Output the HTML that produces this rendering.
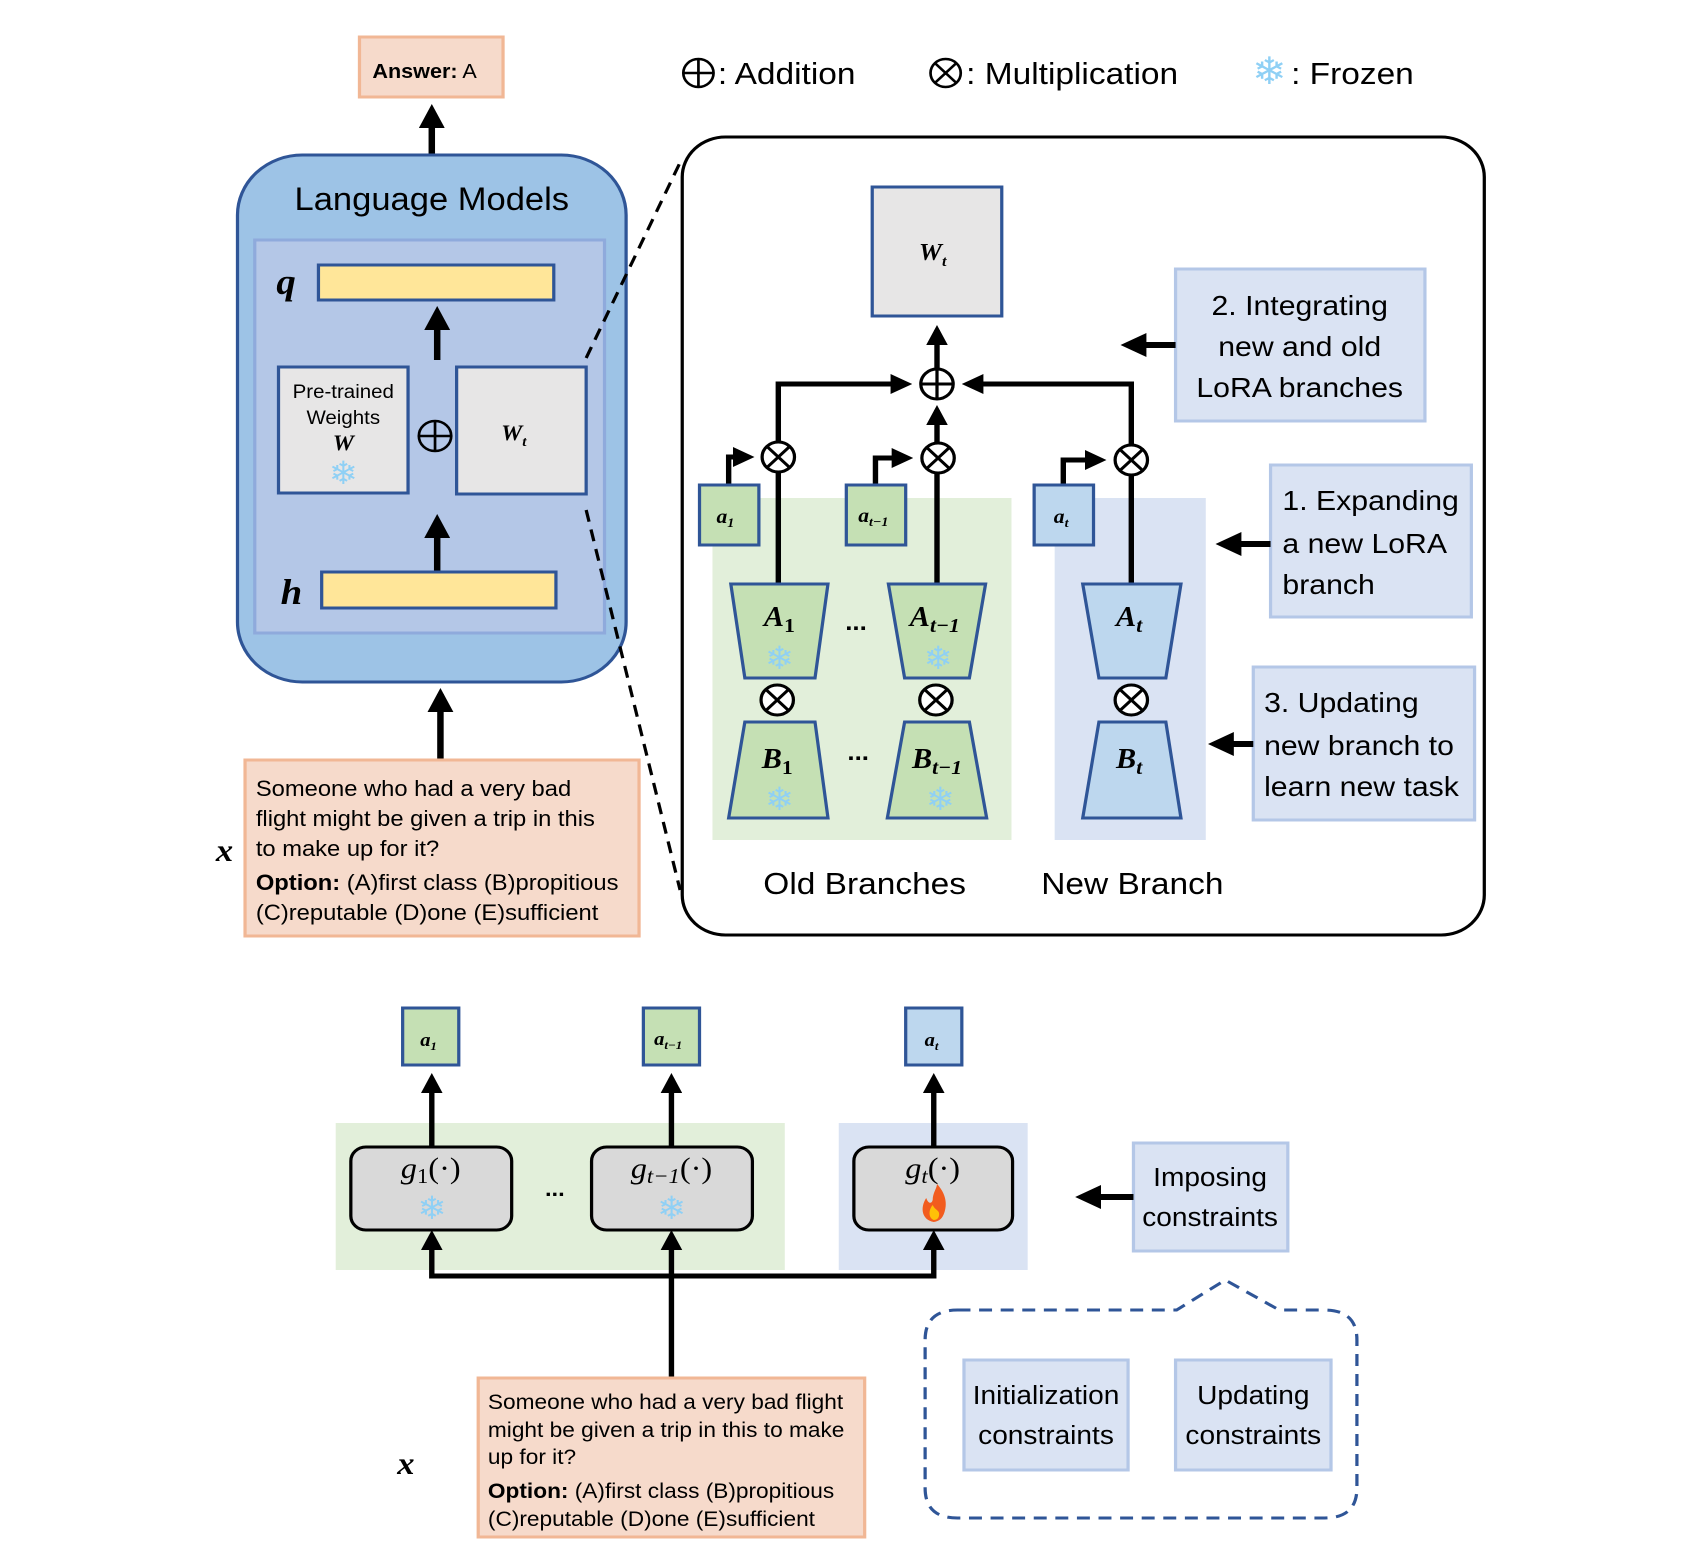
<!DOCTYPE html>
<html><head><meta charset="utf-8"><style>
html,body{margin:0;padding:0;background:#fff;}
svg{display:block;}
text{font-family:"Liberation Sans","DejaVu Sans",sans-serif;fill:#000;}
.m{font-family:"Liberation Serif",serif;font-weight:bold;font-style:italic;}
.sf{fill:#8fd0f5;font-family:"DejaVu Sans",sans-serif;}
</style></head><body>
<svg width="1684" height="1545" viewBox="0 0 1560 1545" preserveAspectRatio="none" xmlns="http://www.w3.org/2000/svg">
<defs>
<marker id="ah" markerWidth="4" markerHeight="4" refX="3" refY="2" orient="auto" markerUnits="strokeWidth"><path d="M0,0 L4,2 L0,4 z" fill="#000"/></marker>
</defs>

<circle cx="647" cy="73" r="14" fill="none" stroke="#000" stroke-width="2.5"/><path d="M633,73h28M647,59v28" stroke="#000" stroke-width="2.5"/>
<text x="665" y="84" font-size="31">: Addition</text>
<circle cx="876" cy="73" r="14" fill="none" stroke="#000" stroke-width="2.5"/><path d="M866,63l20,20M886,63l-20,20" stroke="#000" stroke-width="2.5"/>
<text x="895" y="84" font-size="31">: Multiplication</text>
<text x="1160" y="84" font-size="38" class="sf">❄</text>
<text x="1196" y="84" font-size="31">: Frozen</text>

<rect x="333" y="37" width="133" height="60" fill="#f6dacb" stroke="#f1b795" stroke-width="3"/>
<text x="345" y="78" font-size="20"><tspan font-weight="bold">Answer:</tspan> A</text>
<line x1="400" y1="155" x2="400" y2="110" stroke="#000" stroke-width="6" marker-end="url(#ah)"/>

<rect x="220" y="155" width="360" height="527" rx="60" fill="#9dc3e6" stroke="#2f5597" stroke-width="3"/>
<text x="400" y="210" font-size="32" text-anchor="middle">Language Models</text>
<rect x="236" y="240" width="324" height="393" fill="#b4c7e7" stroke="#8faadc" stroke-width="3"/>
<rect x="295" y="265" width="218" height="35" fill="#ffe699" stroke="#2f5597" stroke-width="3"/>
<text x="265" y="294" font-size="36" class="m" text-anchor="middle">q</text>
<line x1="405" y1="360" x2="405" y2="312" stroke="#000" stroke-width="6" marker-end="url(#ah)"/>
<rect x="258" y="367" width="120" height="126" fill="#e7e6e6" stroke="#2f5597" stroke-width="3"/>
<text x="318" y="398" font-size="19" text-anchor="middle">Pre-trained</text>
<text x="318" y="424" font-size="19" text-anchor="middle">Weights</text>
<text x="318" y="450" font-size="22" class="m" text-anchor="middle">W</text>
<text x="318" y="484" font-size="32" class="sf" text-anchor="middle">❄</text>
<circle cx="403" cy="436" r="15" fill="none" stroke="#000" stroke-width="2.5"/><path d="M388,436h30M403,421v30" stroke="#000" stroke-width="2.5"/>
<rect x="423" y="367" width="120" height="127" fill="#e7e6e6" stroke="#2f5597" stroke-width="3"/>
<text x="476" y="440" font-size="22" class="m" text-anchor="middle">W<tspan font-size="14" dy="6">t</tspan></text>
<line x1="405" y1="572" x2="405" y2="520" stroke="#000" stroke-width="6" marker-end="url(#ah)"/>
<rect x="298" y="572" width="217" height="36" fill="#ffe699" stroke="#2f5597" stroke-width="3"/>
<text x="270" y="604" font-size="36" class="m" text-anchor="middle">h</text>
<line x1="408" y1="760" x2="408" y2="694" stroke="#000" stroke-width="6" marker-end="url(#ah)"/>

<rect x="227" y="760" width="365" height="176" fill="#f6dacb" stroke="#f1b795" stroke-width="3"/>
<text x="237" y="796" font-size="22">Someone who had a very bad</text>
<text x="237" y="826" font-size="22">flight might be given a trip in this</text>
<text x="237" y="856" font-size="22">to make up for it?</text>
<text x="237" y="890" font-size="22"><tspan font-weight="bold">Option:</tspan> (A)first class (B)propitious</text>
<text x="237" y="920" font-size="22">(C)reputable (D)one (E)sufficient</text>
<text x="208" y="861" font-size="32" class="m" text-anchor="middle">x</text>

<line x1="543" y1="358" x2="632" y2="158" stroke="#000" stroke-width="3" stroke-dasharray="12,8"/>
<line x1="543" y1="510" x2="630" y2="890" stroke="#000" stroke-width="3" stroke-dasharray="12,8"/>

<rect x="632" y="137" width="743" height="798" rx="40" fill="#fff" stroke="#000" stroke-width="3"/>
<rect x="660" y="498" width="277" height="342" fill="#e2efda"/>
<rect x="977" y="498" width="140" height="342" fill="#dae3f3"/>
<rect x="808" y="187" width="120" height="129" fill="#e7e6e6" stroke="#2f5597" stroke-width="3"/>
<text x="864" y="260" font-size="24" class="m" text-anchor="middle">W<tspan font-size="15" dy="6">t</tspan></text>

<g stroke="#000" stroke-width="5" fill="none">
<line x1="868" y1="369" x2="868" y2="330" marker-end="url(#ah)"/>
<polyline points="721,442 721,384 840,384" marker-end="url(#ah)"/>
<polyline points="1048,445 1048,384 896,384" marker-end="url(#ah)"/>
<line x1="868" y1="443" x2="868" y2="410" marker-end="url(#ah)"/>
<line x1="721" y1="584" x2="721" y2="472"/>
<line x1="868" y1="584" x2="868" y2="473"/>
<line x1="1048" y1="584" x2="1048" y2="475"/>
<polyline points="675,485 675,457 694,457" marker-end="url(#ah)"/>
<polyline points="811,485 811,458 841,458" marker-end="url(#ah)"/>
<polyline points="985,485 985,460 1020,460" marker-end="url(#ah)"/>
</g>
<g fill="#fff" stroke="#000" stroke-width="3">
<circle cx="868" cy="384" r="15"/><path d="M853,384h30M868,369v30"/>
<circle cx="721" cy="457" r="15"/><path d="M710,446l22,22M732,446l-22,22"/>
<circle cx="869" cy="458" r="15"/><path d="M858,447l22,22M880,447l-22,22"/>
<circle cx="1048" cy="460" r="15"/><path d="M1037,449l22,22M1059,449l-22,22"/>
<circle cx="720" cy="700" r="15"/><path d="M709,689l22,22M731,689l-22,22"/>
<circle cx="867" cy="700" r="15"/><path d="M856,689l22,22M878,689l-22,22"/>
<circle cx="1048" cy="700" r="15"/><path d="M1037,689l22,22M1059,689l-22,22"/>
</g>
<rect x="648" y="485" width="55" height="60" fill="#c5e0b4" stroke="#2f5597" stroke-width="3"/>
<text x="672" y="523" font-size="20" class="m" font-weight="normal" text-anchor="middle">a<tspan font-size="13" dy="4">1</tspan></text>
<rect x="784" y="485" width="55" height="60" fill="#c5e0b4" stroke="#2f5597" stroke-width="3"/>
<text x="809" y="522" font-size="20" class="m" font-weight="normal" text-anchor="middle">a<tspan font-size="13" dy="4">t−1</tspan></text>
<rect x="958" y="485" width="55" height="60" fill="#bdd7ee" stroke="#2f5597" stroke-width="3"/>
<text x="983" y="523" font-size="20" class="m" font-weight="normal" text-anchor="middle">a<tspan font-size="13" dy="4">t</tspan></text>

<g stroke="#2f5597" stroke-width="3">
<polygon points="677,584 767,584 755,678 690,678" fill="#c5e0b4"/>
<polygon points="690,722 755,722 767,818 675,818" fill="#c5e0b4"/>
<polygon points="823,584 913,584 898,678 838,678" fill="#c5e0b4"/>
<polygon points="838,722 898,722 914,818 822,818" fill="#c5e0b4"/>
<polygon points="1003,584 1094,584 1080,678 1018,678" fill="#bdd7ee"/>
<polygon points="1018,722 1080,722 1094,818 1003,818" fill="#bdd7ee"/>
</g>
<text x="722" y="626" font-size="28" class="m" text-anchor="middle">A<tspan font-size="20" dy="6" font-style="normal">1</tspan></text>
<text x="866" y="626" font-size="28" class="m" text-anchor="middle">A<tspan font-size="20" dy="6">t−1</tspan></text>
<text x="1046" y="626" font-size="28" class="m" text-anchor="middle">A<tspan font-size="20" dy="6">t</tspan></text>
<text x="720" y="768" font-size="28" class="m" text-anchor="middle">B<tspan font-size="20" dy="6" font-style="normal">1</tspan></text>
<text x="868" y="768" font-size="28" class="m" text-anchor="middle">B<tspan font-size="20" dy="6">t−1</tspan></text>
<text x="1046" y="768" font-size="28" class="m" text-anchor="middle">B<tspan font-size="20" dy="6">t</tspan></text>
<text x="722" y="669" font-size="32" class="sf" text-anchor="middle">❄</text>
<text x="869" y="669" font-size="32" class="sf" text-anchor="middle">❄</text>
<text x="722" y="810" font-size="32" class="sf" text-anchor="middle">❄</text>
<text x="871" y="810" font-size="32" class="sf" text-anchor="middle">❄</text>
<text x="793" y="630" font-size="24" font-weight="bold" text-anchor="middle">...</text>
<text x="795" y="760" font-size="24" font-weight="bold" text-anchor="middle">...</text>
<text x="801" y="894" font-size="31" text-anchor="middle">Old Branches</text>
<text x="1049" y="894" font-size="31" text-anchor="middle">New Branch</text>

<rect x="1089" y="269" width="231" height="152" fill="#dae3f3" stroke="#b4c7e7" stroke-width="3"/>
<text x="1204" y="315" font-size="28" text-anchor="middle">2. Integrating</text>
<text x="1204" y="356" font-size="28" text-anchor="middle">new and old</text>
<text x="1204" y="397" font-size="28" text-anchor="middle">LoRA branches</text>
<rect x="1177" y="465" width="186" height="152" fill="#dae3f3" stroke="#b4c7e7" stroke-width="3"/>
<text x="1188" y="510" font-size="28">1. Expanding</text>
<text x="1188" y="553" font-size="28">a new LoRA</text>
<text x="1188" y="594" font-size="28">branch</text>
<rect x="1161" y="667" width="205" height="153" fill="#dae3f3" stroke="#b4c7e7" stroke-width="3"/>
<text x="1171" y="712" font-size="28">3. Updating</text>
<text x="1171" y="755" font-size="28">new branch to</text>
<text x="1171" y="796" font-size="28">learn new task</text>
<g stroke="#000" stroke-width="6">
<line x1="1089" y1="345" x2="1044" y2="345" marker-end="url(#ah)"/>
<line x1="1177" y1="544" x2="1132" y2="544" marker-end="url(#ah)"/>
<line x1="1161" y1="744" x2="1125" y2="744" marker-end="url(#ah)"/>
</g>

<rect x="311" y="1123" width="416" height="147" fill="#e2efda"/>
<rect x="777" y="1123" width="175" height="147" fill="#dae3f3"/>
<rect x="373" y="1008" width="52" height="57" fill="#c5e0b4" stroke="#2f5597" stroke-width="3"/>
<text x="397" y="1046" font-size="19" class="m" font-weight="normal" text-anchor="middle">a<tspan font-size="12" dy="4">1</tspan></text>
<rect x="596" y="1008" width="52" height="57" fill="#c5e0b4" stroke="#2f5597" stroke-width="3"/>
<text x="619" y="1045" font-size="19" class="m" font-weight="normal" text-anchor="middle">a<tspan font-size="12" dy="4">t−1</tspan></text>
<rect x="839" y="1008" width="52" height="57" fill="#bdd7ee" stroke="#2f5597" stroke-width="3"/>
<text x="863" y="1046" font-size="19" class="m" font-weight="normal" text-anchor="middle">a<tspan font-size="12" dy="4">t</tspan></text>
<g stroke="#000" stroke-width="5" fill="none">
<line x1="400" y1="1147" x2="400" y2="1078" marker-end="url(#ah)"/>
<line x1="622" y1="1147" x2="622" y2="1078" marker-end="url(#ah)"/>
<line x1="865" y1="1147" x2="865" y2="1078" marker-end="url(#ah)"/>
<polyline points="400,1244 400,1276 865,1276 865,1244" />
<line x1="622" y1="1378" x2="622" y2="1244"/>
</g>
<g fill="#000">
<path d="M390,1250 L400,1230 L410,1250z"/><path d="M612,1250 L622,1230 L632,1250z"/><path d="M855,1250 L865,1230 L875,1250z"/>
</g>
<rect x="325" y="1147" width="149" height="83" rx="14" fill="#d9d9d9" stroke="#000" stroke-width="3"/>
<rect x="548" y="1147" width="149" height="83" rx="14" fill="#d9d9d9" stroke="#000" stroke-width="3"/>
<rect x="791" y="1147" width="147" height="83" rx="14" fill="#d9d9d9" stroke="#000" stroke-width="3"/>
<text x="399" y="1178" font-size="30" text-anchor="middle" style="font-family:'Liberation Serif',serif;font-style:italic">g<tspan font-size="21" dy="5" style="font-style:normal">1</tspan><tspan dy="-5" style="font-style:normal">(·)</tspan></text>
<text x="622" y="1178" font-size="30" text-anchor="middle" style="font-family:'Liberation Serif',serif;font-style:italic">g<tspan font-size="21" dy="5">t−1</tspan><tspan dy="-5" style="font-style:normal">(·)</tspan></text>
<text x="864" y="1178" font-size="30" text-anchor="middle" style="font-family:'Liberation Serif',serif;font-style:italic">g<tspan font-size="21" dy="5">t</tspan><tspan dy="-5" style="font-style:normal">(·)</tspan></text>
<text x="400" y="1219" font-size="32" class="sf" text-anchor="middle">❄</text>
<text x="622" y="1219" font-size="32" class="sf" text-anchor="middle">❄</text>
<path d="M865,1222 C854,1220 852,1208 858,1198 C860,1204 863,1204 864,1200 C864,1193 868,1188 868,1184 C875,1192 878,1202 875,1212 C873,1219 870,1221 865,1222z" fill="#f25c1e"/>
<path d="M865,1220 C860,1218 860,1210 864,1205 C866,1210 870,1210 870,1214 C870,1218 868,1220 865,1220z" fill="#ffc107"/>
<text x="514" y="1196" font-size="22" font-weight="bold" text-anchor="middle">...</text>

<rect x="1050" y="1143" width="143" height="108" fill="#dae3f3" stroke="#b4c7e7" stroke-width="3"/>
<text x="1121" y="1186" font-size="26" text-anchor="middle">Imposing</text>
<text x="1121" y="1226" font-size="26" text-anchor="middle">constraints</text>
<line x1="1050" y1="1197" x2="1002" y2="1197" stroke="#000" stroke-width="6" marker-end="url(#ah)"/>

<path d="M887,1310 L1090,1310 L1135,1280 L1185,1310 L1227,1310 Q1257,1310 1257,1340 L1257,1488 Q1257,1518 1227,1518 L887,1518 Q857,1518 857,1488 L857,1340 Q857,1310 887,1310z" fill="none" stroke="#2f5597" stroke-width="3" stroke-dasharray="12,8"/>
<rect x="893" y="1360" width="152" height="110" fill="#dae3f3" stroke="#b4c7e7" stroke-width="3"/>
<text x="969" y="1404" font-size="26" text-anchor="middle">Initialization</text>
<text x="969" y="1444" font-size="26" text-anchor="middle">constraints</text>
<rect x="1089" y="1360" width="144" height="110" fill="#dae3f3" stroke="#b4c7e7" stroke-width="3"/>
<text x="1161" y="1404" font-size="26" text-anchor="middle">Updating</text>
<text x="1161" y="1444" font-size="26" text-anchor="middle">constraints</text>

<rect x="443" y="1378" width="358" height="159" fill="#f6dacb" stroke="#f1b795" stroke-width="3"/>
<text x="452" y="1409" font-size="21">Someone who had a very bad flight</text>
<text x="452" y="1437" font-size="21">might be given a trip in this to make</text>
<text x="452" y="1464" font-size="21">up for it?</text>
<text x="452" y="1498" font-size="21"><tspan font-weight="bold">Option:</tspan> (A)first class (B)propitious</text>
<text x="452" y="1526" font-size="21">(C)reputable (D)one (E)sufficient</text>
<text x="376" y="1474" font-size="32" class="m" text-anchor="middle">x</text>
</svg>
</body></html>
